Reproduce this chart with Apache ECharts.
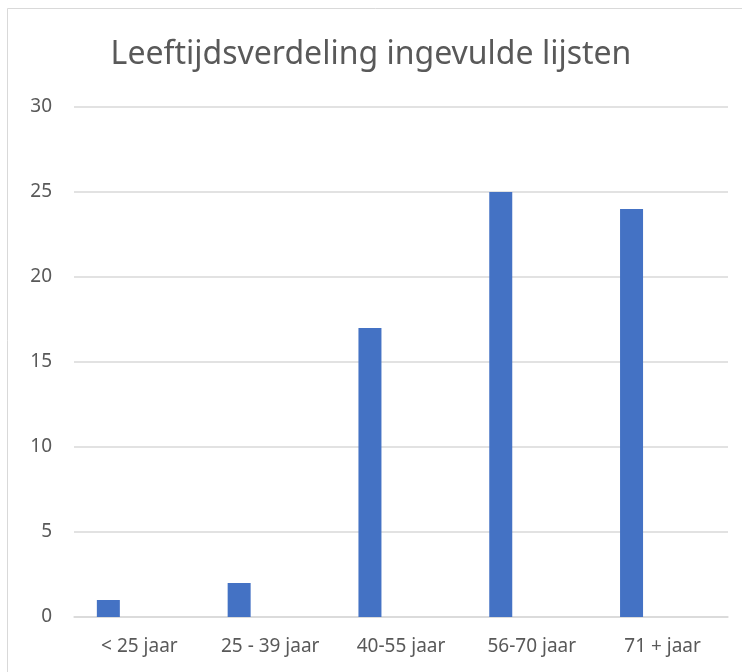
<!DOCTYPE html>
<html>
<head>
<meta charset="utf-8">
<script src="https://cdn.jsdelivr.net/npm/echarts@6/dist/echarts.min.js"></script>
<style>html,body{margin:0;padding:0;background:#fff}#c{width:742px;height:672px}</style>
</head>
<body>
<div id="c"></div>
<script>
const categories = ['< 25 jaar', '25 - 39 jaar', '40-55 jaar', '56-70 jaar', '71 + jaar'];
const counts = [1, 2, 17, 25, 24];
const emptySeries = [null, null, null, null, null];
const titleText = 'Leeftijdsverdeling ingevulde lijsten';

const chart = echarts.init(document.getElementById('c'), null, {renderer: 'canvas'});
const font = 'Noto Sans';
chart.setOption({
  animation: false,
  backgroundColor: '#fff',
  graphic: [{
    type: 'rect', shape: {x: 7.5, y: 8.5, width: 760, height: 700},
    style: {fill: 'none', stroke: '#d9d9d9', lineWidth: 1}
  }],
  title: {
    text: titleText, left: 'center', top: 34,
    textStyle: {fontFamily: font, fontSize: 32, fontWeight: 'normal', color: '#595959'}
  },
  grid: {left: 74, right: 14, top: 107, bottom: 55, containLabel: false},
  xAxis: {
    type: 'category', data: categories,
    axisLine: {lineStyle: {color: '#d9d9d9', width: 1.5}},
    axisTick: {show: false},
    axisLabel: {fontFamily: font, fontSize: 19, color: '#595959', margin: 20, interval: 0, hideOverlap: false}
  },
  yAxis: {
    type: 'value', min: 0, max: 30, interval: 5,
    axisLine: {show: false}, axisTick: {show: false},
    splitLine: {lineStyle: {color: '#d9d9d9', width: 1.5}},
    axisLabel: {fontFamily: font, fontSize: 19, color: '#595959', margin: 22}
  },
  series: [
    {type: 'bar', data: counts, barWidth: 23, barGap: '170%', itemStyle: {color: '#4472c4'}},
    {type: 'bar', data: emptySeries, barWidth: 23, itemStyle: {color: '#ed7d31'}}
  ]
});
</script>
</body>
</html>
